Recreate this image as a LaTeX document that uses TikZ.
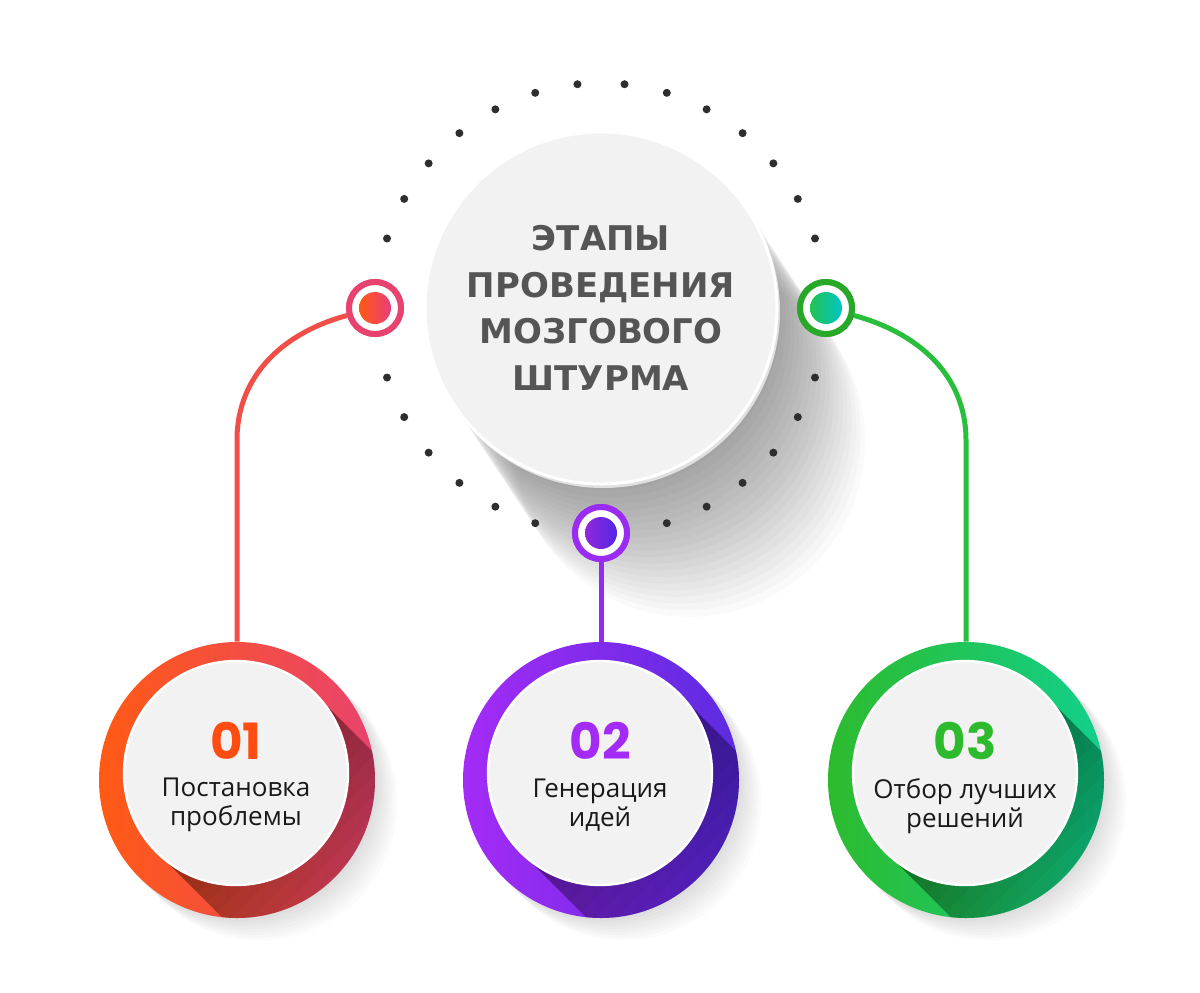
\documentclass[tikz,border=0pt]{standalone}
\usepackage{fontspec}
\setmainfont{Open Sans}
\newfontfamily\titlefont{DejaVu Sans}
\newfontfamily\numfont{Poppins}
\usepackage{xcolor}
\usetikzlibrary{positioning,calc}

\definecolor{orangeA}{HTML}{FF5A14}
\definecolor{pinkA}{HTML}{E8436E}
\definecolor{purpleA}{HTML}{A42BF5}
\definecolor{violetA}{HTML}{5B2BE0}
\definecolor{greenA}{HTML}{2DBB2D}
\definecolor{tealA}{HTML}{12D08C}
\definecolor{discgray}{HTML}{F2F2F2}
\definecolor{titlegray}{HTML}{555555}
\definecolor{dotgray}{HTML}{2E2E2E}
\definecolor{coral}{HTML}{F24E48}

\tikzset{
  dot/.style={circle, fill=dotgray, inner sep=0pt, minimum size=4pt},
  hubdisc/.style={circle, fill=discgray, draw=white, line width=1.5pt, minimum size=176pt, inner sep=0pt},
  face/.style={circle, fill=discgray, draw=white, line width=1.2pt, minimum size=112pt, inner sep=0pt},
  outer/.style={circle, minimum size=138pt, inner sep=0pt},
  ring/.style={circle, draw=#1, line width=3pt, fill=white, minimum size=26pt, inner sep=0pt},
  disc/.style={circle, minimum size=16pt, inner sep=0pt},
  link/.style={line width=2.5pt, draw=#1},
  numtext/.style={font=\numfont\bfseries\fontsize{25}{25}\selectfont, inner sep=0pt},
  caption/.style={font=\fontsize{13}{14.5}\selectfont, align=center, inner sep=0pt, text=black!90},
  shadowlayer/.style={fill=black, opacity=#1},
}

\begin{document}
\begin{tikzpicture}[x=0.5pt, y=-0.5pt]
  \fill[white] (0,0) rectangle (1200,992);
  \useasboundingbox (0,0) rectangle (1200,992);

  \coordinate (hub) at (601,308);
  \coordinate (c1) at (236,773);
  \coordinate (c2) at (600,773);
  \coordinate (c3) at (965,773);

  % soft long shadow of the hub
  \foreach \t in {8,16,...,160}
    \fill[shadowlayer=0.02] ($(hub)+(0.55*\t,0.83*\t)$) circle[radius=176];

  % dotted ring
  \foreach \k in {0,...,6} {
    \node (dl\k) [dot] at ($(hub)+({-96-11*\k}:225)$) {};
    \node (dr\k) [dot] at ($(hub)+({-84+11*\k}:225)$) {};
  }
  \foreach \k in {0,...,5} {
    \node (dbl\k) [dot] at ($(hub)+({-198-11*\k}:225)$) {};
    \node (dbr\k) [dot] at ($(hub)+({18+11*\k}:225)$) {};
  }

  % hub
  \fill[black!12] ($(hub)+(2,3)$) circle[radius=177];
  \node (title) [hubdisc, text=titlegray, align=center,
    font=\titlefont\bfseries\fontsize{17}{23.25}\selectfont] at (hub)
    {ЭТАПЫ\\ПРОВЕДЕНИЯ\\МОЗГОВОГО\\ШТУРМА};

  % small rings
  \node (ring1) [ring=pinkA] at (375,308) {};
  \node (ring2) [ring=purpleA!85!violetA] at (601,533) {};
  \node (ring3) [ring=greenA!90!black] at (826,308) {};

  % faint shadows behind the big circles
  \foreach \x in {237,601,966}
    \foreach \t in {4,8,...,32}
      \fill[shadowlayer=0.016] (\x+0.7*\t,780+0.7*\t) circle[radius=138];

  % big circles
  \node (step1) [outer, left color=orangeA, right color=pinkA] at (237,780) {};
  \node (step2) [outer, left color=purpleA, right color=violetA] at (601,780) {};
  \node (step3) [outer, left color=greenA, right color=tealA] at (966,780) {};

  \coordinate (bend1) at (237,440);
  \coordinate (bend3) at (966,440);

  % links
  \draw[link=coral] (ring1.195) to[out=195, in=90] (bend1) -- (step1.north);
  \draw[link=purpleA!80!violetA] (ring2.south) -- (step2.north);
  \draw[link=greenA!85!tealA] (ring3.-15) to[out=-15, in=90] (bend3) -- (step3.north);

  % redraw rings over links
  \node (ring1b) [ring=pinkA] at (ring1) {};
  \node (ring2b) [ring=purpleA!85!violetA] at (ring2) {};
  \node (ring3b) [ring=greenA!90!black] at (ring3) {};
  \node (disc1) [disc, left color=orangeA, right color=pinkA!90!magenta] at (ring1) {};
  \node (disc2) [disc, left color=purpleA!90!black, right color=violetA!90!blue] at (ring2) {};
  \node (disc3) [disc, left color=greenA!60!tealA, right color=cyan!55!teal] at (ring3) {};

  % long shadows inside the big circles
  \foreach \s/\c in {step1/c1, step2/c2, step3/c3} {
    \begin{scope}
      \clip (\s.center) circle[radius=138];
      \foreach \L in {10,20,...,160}
        \fill[shadowlayer=0.03] ($(\c)+(79,-79)$) -- ($(\c)+(79+\L,-79+\L)$)
          -- ($(\c)+(-79+\L,79+\L)$) -- ($(\c)+(-79,79)$) -- cycle;
    \end{scope}
  }

  % faces
  \node (face1) [face] at (c1) {};
  \node (face2) [face] at (c2) {};
  \node (face3) [face] at (c3) {};

  \node (num1) [numtext, text=orangeA!85!red] at ($(face1)+(0,-32)$) {01};
  \node (num2) [numtext, text=purpleA] at ($(face2)+(0,-32)$) {02};
  \node (num3) [numtext, text=greenA] at ($(face3)+(0,-32)$) {03};

  \node (lab1) [caption, below=9pt of num1] {Постановка\\проблемы};
  \node (lab2) [caption, below=9pt of num2] {Генерация\\идей};
  \node (lab3) [caption, below=9pt of num3] {Отбор лучших\\решений};
\end{tikzpicture}
\end{document}
